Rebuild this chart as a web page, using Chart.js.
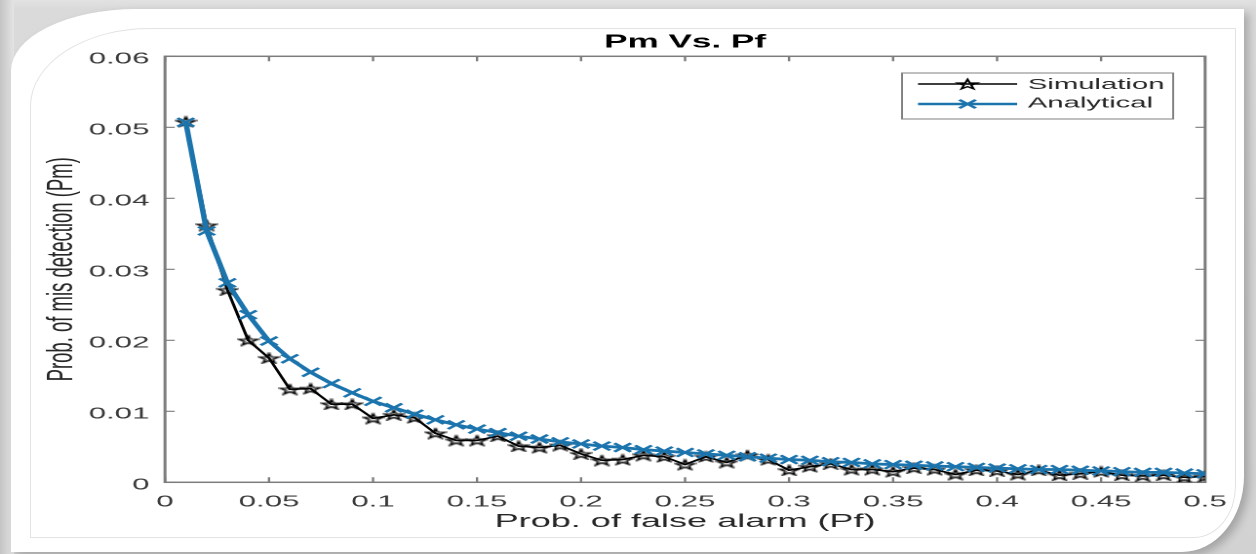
<!DOCTYPE html>
<html><head><meta charset="utf-8">
<script src="https://cdn.jsdelivr.net/npm/chart.js@4.4.1/dist/chart.umd.min.js"></script>
<style>
html,body{margin:0;padding:0;width:1256px;height:554px;overflow:hidden;}
body{background:linear-gradient(to bottom,#e2e2e2 0px,#dadada 9px,#d2d2d2 100%);position:relative;}
#bgL{position:absolute;left:0;top:0;width:14px;height:554px;background:linear-gradient(to right,#c4c4c4,#e4e4e4);}
#card{position:absolute;left:11px;top:9px;width:1233px;height:543px;background:#fff;border-top-left-radius:125px 62px;border-bottom-right-radius:62px 76px;box-shadow:5px 4px 8px rgba(0,0,0,0.22);}
#inner{position:absolute;left:30px;top:28px;width:1206px;height:510px;box-sizing:border-box;border:1px solid #e3e3e3;border-top-left-radius:120px 78px;border-bottom-right-radius:42px 52px;}
#wrap{position:absolute;left:0;top:0;width:644px;height:554px;transform:scaleX(1.950311);transform-origin:0 0;}
</style></head>
<body>
<div id="bgL"></div>
<div id="card"></div>
<div id="inner"></div>
<div id="wrap"><canvas id="c" width="644" height="554" style="width:644px;height:554px"></canvas></div>
<script>
// ---- data ----
const pf = [0.01,0.02,0.03,0.04,0.05,0.06,0.07,0.08,0.09,0.10,
            0.11,0.12,0.13,0.14,0.15,0.16,0.17,0.18,0.19,0.20,
            0.21,0.22,0.23,0.24,0.25,0.26,0.27,0.28,0.29,0.30,
            0.31,0.32,0.33,0.34,0.35,0.36,0.37,0.38,0.39,0.40,
            0.41,0.42,0.43,0.44,0.45,0.46,0.47,0.48,0.49,0.50];
const simulationPm = [0.0508,0.0362,0.0271,0.0200,0.0175,0.0131,0.0132,0.0110,0.0110,0.0090,
                      0.0095,0.0091,0.0069,0.0059,0.0059,0.0065,0.0051,0.0049,0.0052,0.0040,
                      0.0031,0.0032,0.0038,0.0036,0.0025,0.0036,0.0028,0.0038,0.0032,0.0017,
                      0.0022,0.0026,0.0018,0.0018,0.0015,0.0020,0.0018,0.0011,0.0017,0.0016,
                      0.0011,0.0017,0.0010,0.0012,0.0015,0.0010,0.0009,0.0010,0.0007,0.0008];
const analyticalPm = [0.0507,0.0354,0.0281,0.0236,0.0199,0.0174,0.0155,0.0139,0.0126,0.0114,
                      0.0105,0.0096,0.0088,0.0081,0.0075,0.0070,0.0065,0.0061,0.0057,0.0054,
                      0.0051,0.0049,0.0046,0.0044,0.0042,0.0040,0.0038,0.0036,0.0034,0.0032,
                      0.0031,0.0029,0.0028,0.0026,0.0025,0.0024,0.0023,0.0022,0.0021,0.0020,
                      0.0019,0.0018,0.0018,0.0017,0.0016,0.0015,0.0014,0.0014,0.0013,0.0012];
const xTickValues = [0,0.05,0.1,0.15,0.2,0.25,0.3,0.35,0.4,0.45,0.5];
const xTickLabels = ['0','0.05','0.1','0.15','0.2','0.25','0.3','0.35','0.4','0.45','0.5'];
const yTickValues = [0,0.01,0.02,0.03,0.04,0.05,0.06];
const yTickLabels = ['0','0.01','0.02','0.03','0.04','0.05','0.06'];
const seriesNames = ['Simulation','Analytical'];
const chartTitle = 'Pm Vs. Pf';
const xTitle = 'Prob. of false alarm (Pf)';
const yTitle = 'Prob. of mis detection (Pm)';

// ---- styles ----
const FONT = "'Liberation Sans', Arial, sans-serif";
const BLUE = '#1c74ad';
const AXIS = '#7c7c7c';

function pentagram(ctx, cx, cy, R) {
  const r = R * 0.382;
  ctx.beginPath();
  for (let i = 0; i < 10; i++) {
    const a = -Math.PI / 2 + i * Math.PI / 5;
    const rr = (i % 2) ? r : R;
    ctx.lineTo(cx + rr * Math.cos(a), cy + rr * Math.sin(a));
  }
  ctx.closePath();
}
const starImg = document.createElement('canvas');
starImg.width = 12; starImg.height = 12;
(function(){
  const g = starImg.getContext('2d');
  pentagram(g, 6, 6.6, 5.2);
  g.strokeStyle = '#000'; g.lineWidth = 1.2; g.stroke();
})();

const boxPlugin = {
  id: 'boxPlugin',
  beforeDatasetsDraw(chart) {
    const {ctx, chartArea: a, scales} = chart;
    ctx.save();
    ctx.strokeStyle = AXIS; ctx.lineWidth = 1.5;
    ctx.strokeRect(a.left, a.top, a.right - a.left, a.bottom - a.top);
    ctx.lineWidth = 1.2;
    ctx.beginPath();
    xTickValues.forEach(v => {
      const px = scales.x.getPixelForValue(v);
      ctx.moveTo(px, a.bottom); ctx.lineTo(px, a.bottom - 5);
      ctx.moveTo(px, a.top); ctx.lineTo(px, a.top + 5);
    });
    yTickValues.forEach(v => {
      const py = scales.y.getPixelForValue(v);
      ctx.moveTo(a.left, py); ctx.lineTo(a.left + 5, py);
      ctx.moveTo(a.right, py); ctx.lineTo(a.right - 5, py);
    });
    ctx.stroke();
    ctx.restore();
  },
  afterDraw(chart) {
    const {ctx, chartArea: a} = chart;
    const x0 = a.right - 16.4, y0 = a.top + 16.7;
    const w = 139, h = 46;
    const L = x0 - w;
    ctx.save();
    ctx.fillStyle = '#fff';
    ctx.fillRect(L, y0, w, h);
    ctx.strokeStyle = '#808080'; ctx.lineWidth = 1;
    ctx.strokeRect(L, y0, w, h);
    const r1 = y0 + 11, r2 = y0 + 31;
    const lx1 = L + 8.2, lx2 = L + 59, mx = (lx1 + lx2) / 2;
    // simulation
    ctx.strokeStyle = '#000'; ctx.lineWidth = 1.6;
    ctx.beginPath(); ctx.moveTo(lx1, r1); ctx.lineTo(lx2, r1); ctx.stroke();
    pentagram(ctx, mx, r1 + 0.6, 5.2); ctx.lineWidth = 1.2; ctx.stroke();
    // analytical
    ctx.strokeStyle = BLUE; ctx.lineWidth = 2.6;
    ctx.beginPath(); ctx.moveTo(lx1, r2); ctx.lineTo(lx2, r2); ctx.stroke();
    ctx.lineWidth = 2; ctx.beginPath();
    ctx.moveTo(mx - 4.2, r2 - 4.2); ctx.lineTo(mx + 4.2, r2 + 4.2);
    ctx.moveTo(mx - 4.2, r2 + 4.2); ctx.lineTo(mx + 4.2, r2 - 4.2);
    ctx.stroke();
    ctx.fillStyle = '#262626';
    ctx.font = '15px ' + FONT;
    ctx.textBaseline = 'middle'; ctx.textAlign = 'left';
    ctx.fillText(seriesNames[0], L + 64.5, r1 + 1);
    ctx.fillText(seriesNames[1], L + 64.5, r2 - 0.5);
    ctx.restore();
  }
};

new Chart(document.getElementById('c'), {
  type: 'line',
  data: {
    datasets: [
      {
        label: seriesNames[0],
        data: pf.map((x, i) => ({x, y: simulationPm[i]})),
        borderColor: '#000', borderWidth: 1.6,
        pointStyle: starImg, pointRadius: 5,
        tension: 0, order: 1
      },
      {
        label: seriesNames[1],
        data: pf.map((x, i) => ({x, y: analyticalPm[i]})),
        borderColor: BLUE, borderWidth: 2.8,
        pointStyle: 'crossRot', pointRadius: 6, pointBorderWidth: 2,
        pointBorderColor: BLUE, pointBackgroundColor: BLUE,
        tension: 0, order: 0
      }
    ]
  },
  options: {
    responsive: false,
    animation: false,
    devicePixelRatio: 2,
    layout: {padding: {left: 0, right: 26.1, top: 0, bottom: 0}},
    plugins: {
      legend: {display: false},
      tooltip: {enabled: false},
      title: {
        display: true, text: chartTitle, fullSize: false,
        color: '#000', font: {family: FONT, size: 18, weight: 'bold'},
        padding: {top: 31.5, bottom: 3.2}
      }
    },
    scales: {
      x: {
        type: 'linear', min: 0, max: 0.5,
        afterBuildTicks: s => { s.ticks = xTickValues.map(v => ({value: v})); },
        afterFit: s => { s.height = 71.7; },
        grid: {display: false, drawTicks: false},
        border: {display: false},
        ticks: {
          callback: (v, i) => xTickLabels[i],
          font: {family: FONT, size: 16}, color: '#3a3a3a',
          padding: 10, maxRotation: 0, autoSkip: false
        },
        title: {
          display: true, text: xTitle, color: '#262626',
          font: {family: FONT, size: 18.5}, padding: {top: 0, bottom: 21}
        }
      },
      y: {
        type: 'linear', min: 0, max: 0.06,
        afterBuildTicks: s => { s.ticks = yTickValues.map(v => ({value: v})); },
        afterFit: s => { s.width = 84.6; },
        grid: {display: false, drawTicks: false},
        border: {display: false},
        ticks: {
          callback: (v, i) => yTickLabels[i],
          font: {family: FONT, size: 16}, color: '#3a3a3a',
          padding: 8, labelOffset: 3, autoSkip: false
        },
        title: {
          display: true, text: yTitle, color: '#262626',
          font: {family: FONT, size: 18.5}, padding: {top: 20.7, bottom: 0}
        }
      }
    }
  },
  plugins: [boxPlugin]
});
</script>
</body></html>
